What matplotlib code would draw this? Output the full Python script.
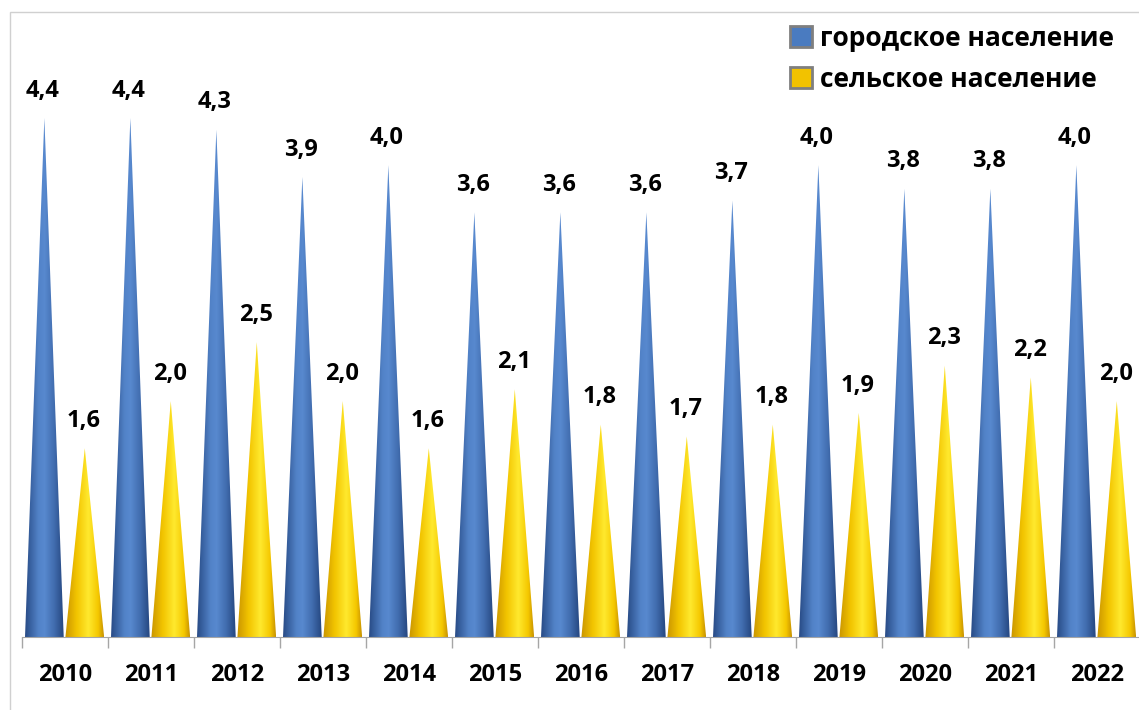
"""Urban vs rural population values by year, cone-style bar chart."""

import matplotlib

matplotlib.use("Agg")
import matplotlib.pyplot as plt
import numpy as np
from matplotlib.colors import LinearSegmentedColormap
from matplotlib.patches import Patch, Polygon, Rectangle

years = ["2010", "2011", "2012", "2013", "2014", "2015", "2016",
         "2017", "2018", "2019", "2020", "2021", "2022"]
urban = [4.4, 4.4, 4.3, 3.9, 4.0, 3.6, 3.6, 3.6, 3.7, 4.0, 3.8, 3.8, 4.0]
rural = [1.6, 2.0, 2.5, 2.0, 1.6, 2.1, 1.8, 1.7, 1.8, 1.9, 2.3, 2.2, 2.0]
series_names = ["городское население", "сельское население"]

plt.rcParams["font.family"] = ["Open Sans", "DejaVu Sans"]
plt.rcParams["font.weight"] = "bold"

blue_cmap = LinearSegmentedColormap.from_list(
    "blue_cone", [(0.0, "#284b86"), (0.35, "#5283c8"), (0.5, "#5889cf"),
                  (0.75, "#416daf"), (1.0, "#25467f")])
yellow_cmap = LinearSegmentedColormap.from_list(
    "yellow_cone", [(0.0, "#c99500"), (0.3, "#f2c400"), (0.6, "#ffe92e"),
                    (0.85, "#f5c800"), (1.0, "#c89200")])

fig = plt.figure(figsize=(11.39, 7.10), dpi=100)
ax = fig.add_axes([22 / 1139, 73 / 710, 1118 / 1139, 637 / 710])

gradient = np.linspace(0, 1, 256).reshape(1, -1)
width = 0.45


def draw_cone(x0, value, cmap):
    poly = Polygon([(x0 - width / 2, 0), (x0 + width / 2, 0), (x0, value)],
                   closed=True, facecolor="none", edgecolor="none")
    ax.add_patch(poly)
    im = ax.imshow(gradient, cmap=cmap, aspect="auto", interpolation="bilinear",
                   extent=(x0 - width / 2, x0 + width / 2, 0, value), zorder=2)
    im.set_clip_path(poly)


x = np.arange(len(years))
for i in x:
    draw_cone(i - 0.24, urban[i], blue_cmap)
    draw_cone(i + 0.23, rural[i], yellow_cmap)
    for xc, v in ((i - 0.26, urban[i]), (i + 0.22, rural[i])):
        ax.annotate(f"{v:.1f}".replace(".", ","), (xc, v), xytext=(0, 11),
                    textcoords="offset points", ha="center", va="bottom",
                    fontsize=17, fontweight="bold", color="black")

ax.set_xlim(-0.5, len(years) - 0.5)
ax.set_ylim(0, 5.4)
ax.set_xticks(x)
ax.set_xticklabels(years, fontsize=17, fontweight="bold")
ax.set_xticks(np.arange(len(years) + 1) - 0.5, minor=True)
ax.tick_params(axis="x", which="major", length=0, pad=19)
ax.tick_params(axis="x", which="minor", length=8, color="#a6a6a6", width=1)
ax.set_yticks([])
for side in ("top", "right", "left"):
    ax.spines[side].set_visible(False)
ax.spines["bottom"].set_color("#a6a6a6")
ax.patch.set_alpha(0)

handles = [Patch(facecolor="#4a7bc0", edgecolor="#7f7f7f", linewidth=2),
           Patch(facecolor="#f2c200", edgecolor="#7f7f7f", linewidth=2)]
fig.legend(handles, series_names, loc="upper left",
           bbox_to_anchor=(779 / 1139, 1 - 14 / 710), frameon=False,
           prop={"size": 19, "weight": "bold"}, handlelength=0.85,
           handleheight=0.85, handletextpad=0.3, labelspacing=0.55,
           borderaxespad=0)

fig.patches.append(Rectangle((10 / 1139, -0.02), 1.05, 1 - 12 / 710 + 0.02,
                             transform=fig.transFigure, fill=False,
                             edgecolor="#d0d0d0", linewidth=1))

fig.savefig("out.png", dpi=100)
